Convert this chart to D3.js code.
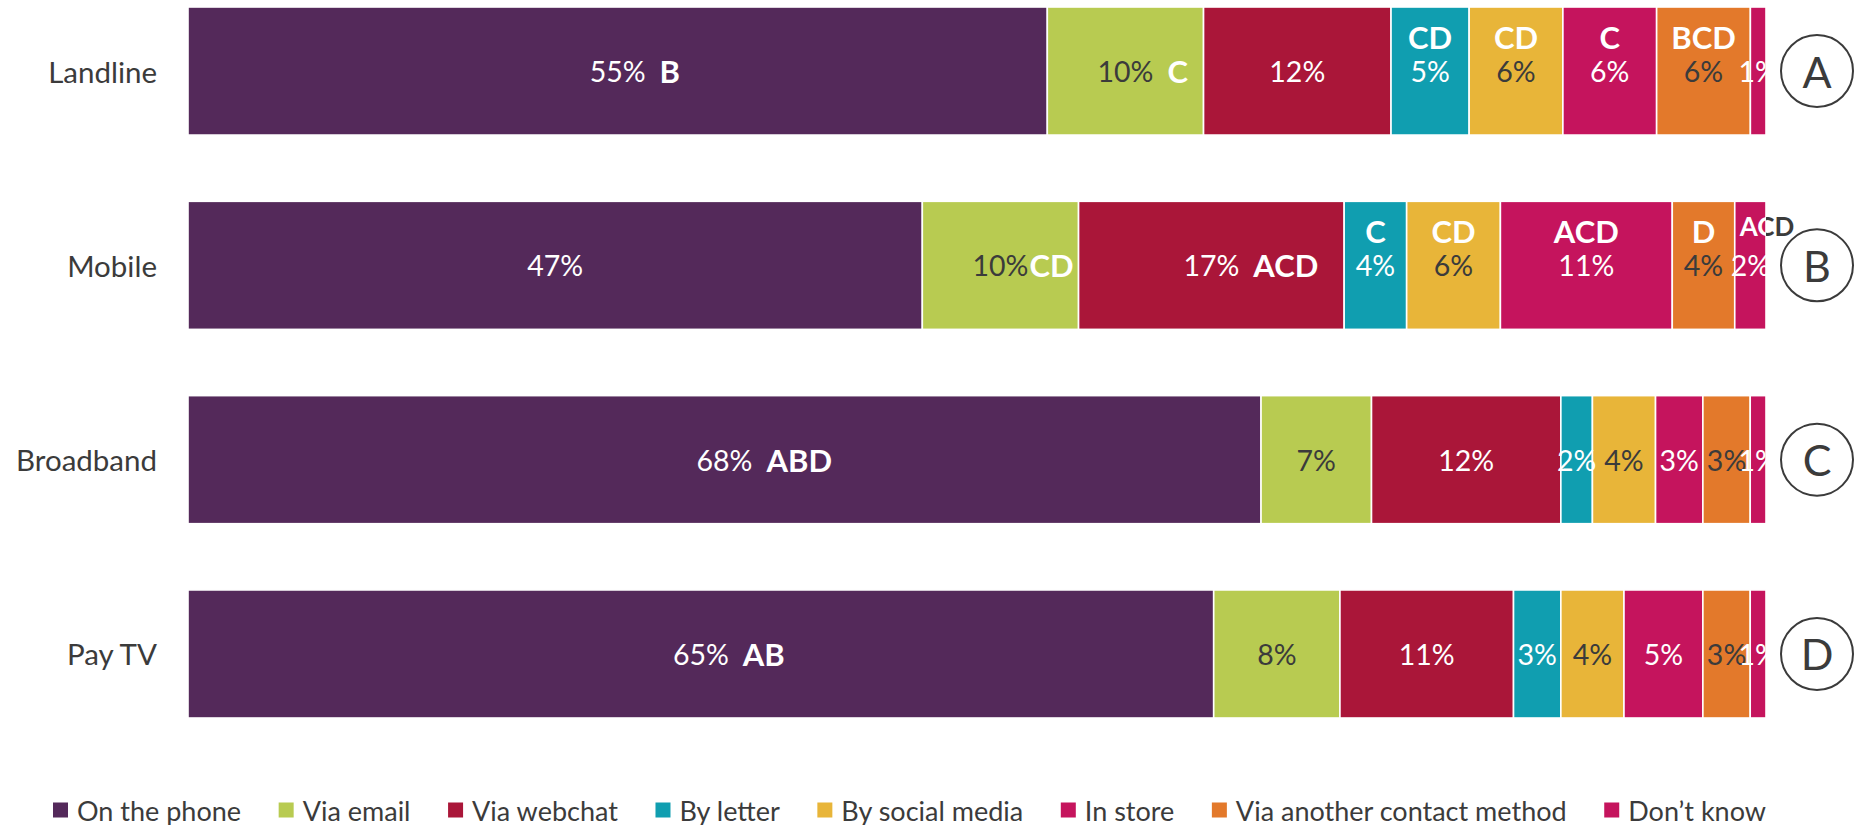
<!DOCTYPE html>
<html>
<head>
<meta charset="utf-8">
<script src="https://cdn.jsdelivr.net/npm/d3@7"></script>
<style>
  html, body { margin: 0; padding: 0; background: #fff; }
  svg { display: block; font-family: Lato, "Open Sans", sans-serif; }
</style>
</head>
<body>
<svg id="chart" width="1855" height="825"></svg>
<script>
// ---------- DATA ----------
const categories = ["Landline", "Mobile", "Broadband", "Pay TV"];
const circleLabels = ["A", "B", "C", "D"];
const seriesNames = ["On the phone", "Via email", "Via webchat", "By letter",
  "By social media", "In store", "Via another contact method", "Don\u2019t know"];

const onThePhone    = [55, 47, 68, 65];
const viaEmail      = [10, 10, 7, 8];
const viaWebchat    = [12, 17, 12, 11];
const byLetter      = [5, 4, 2, 3];
const bySocialMedia = [6, 6, 4, 4];
const inStore       = [6, 11, 3, 5];
const viaAnother    = [6, 4, 3, 3];
const dontKnow      = [1, 2, 1, 1];

// significance letters per category, one per series
const sigLandline  = ["B", "C", "", "CD", "CD", "C", "BCD", ""];
const sigMobile    = ["", "CD", "ACD", "C", "CD", "ACD", "D", "ACD"];
const sigBroadband = ["ABD", "", "", "", "", "", "", ""];
const sigPayTV     = ["AB", "", "", "", "", "", "", ""];

// ---------- STYLE ----------
const colors = ["#54295a", "#b8cb51", "#aa1639", "#109eb0", "#e8b539", "#c5145d", "#e3792b", "#c5145d"];
const valueTextColors = ["#fff", "#3b3b3b", "#fff", "#fff", "#3b3b3b", "#fff", "#3b3b3b", "#fff"];
const darkText = "#3b3b3b";

const seriesValues = [onThePhone, viaEmail, viaWebchat, byLetter, bySocialMedia, inStore, viaAnother, dontKnow];
const sigs = [sigLandline, sigMobile, sigBroadband, sigPayTV];

const rows = categories.map((c, i) => {
  const r = { category: c };
  seriesNames.forEach((s, j) => r[s] = seriesValues[j][i]);
  return r;
});

const W = 1855, H = 825;
const x0 = 188, x1 = 1766;
const svg = d3.select("#chart");

const x = d3.scaleLinear().domain([0, 1]).range([x0, x1]);
const y = d3.scaleBand().domain(categories).range([7, 718]).paddingInner(0.341).paddingOuter(0);

const stack = d3.stack().keys(seriesNames).offset(d3.stackOffsetExpand);
const stacked = stack(rows);

// clip paths for letters inside / outside bar extent
const defs = svg.append("defs");
defs.append("clipPath").attr("id", "clipIn").append("rect")
  .attr("x", 0).attr("y", 0).attr("width", x1).attr("height", H);
defs.append("clipPath").attr("id", "clipOut").append("rect")
  .attr("x", x1).attr("y", 0).attr("width", W - x1).attr("height", H);

// bars
const layers = svg.append("g").selectAll("g").data(stacked).join("g")
  .attr("fill", (d, i) => colors[i]);
layers.selectAll("rect").data(d => d).join("rect")
  .attr("x", d => x(d[0]))
  .attr("y", d => y(d.data.category))
  .attr("width", d => x(d[1]) - x(d[0]))
  .attr("height", y.bandwidth())
  .attr("stroke", "#fff")
  .attr("stroke-width", 1.6);

// value labels
const labelG = svg.append("g");
const letterIn = svg.append("g").attr("clip-path", "url(#clipIn)");
const letterOut = svg.append("g").attr("clip-path", "url(#clipOut)");

stacked.forEach((layer, si) => {
  layer.forEach((d, ci) => {
    const cx = (x(d[0]) + x(d[1])) / 2;
    const cy = y(d.data.category) + y.bandwidth() / 2;
    const v = d.data[seriesNames[si]];
    const t = labelG.append("text")
      .attr("x", cx).attr("y", cy)
      .attr("text-anchor", "middle")
      .attr("dominant-baseline", "central")
      .attr("font-size", 28.5)
      .attr("fill", valueTextColors[si])
      .text(v + "%");
    const sig = sigs[ci][si];
    if (!sig) return;
    const segW = x(d[1]) - x(d[0]);
    let lx, ly, anchor, fs = 31;
    if (si <= 2) {
      const tw = t.node().getComputedTextLength();
      const gap = (ci === 1 && si === 1) ? 1 : 14;
      lx = cx + tw / 2 + gap; ly = cy; anchor = "start";
    } else if (segW < 40) {
      lx = x(d[0]) + 5; ly = cy - 39; anchor = "start"; fs = 26;
    } else {
      lx = cx; ly = cy - 34; anchor = "middle";
    }
    [[letterIn, "#fff"], [letterOut, darkText]].forEach(([g, col]) => {
      g.append("text")
        .attr("x", lx).attr("y", ly)
        .attr("text-anchor", anchor)
        .attr("dominant-baseline", "central")
        .attr("font-size", fs)
        .attr("font-weight", 700)
        .attr("fill", col)
        .text(sig);
    });
  });
});

// category axis labels
svg.append("g").selectAll("text").data(categories).join("text")
  .attr("x", x0 - 31)
  .attr("y", d => y(d) + y.bandwidth() / 2)
  .attr("text-anchor", "end")
  .attr("dominant-baseline", "central")
  .attr("font-size", 29.5)
  .attr("fill", darkText)
  .text(d => d);

// circle labels
const circ = svg.append("g").selectAll("g").data(categories).join("g")
  .attr("transform", d => `translate(1817,${y(d) + y.bandwidth() / 2})`);
circ.append("circle").attr("r", 36).attr("fill", "#fff")
  .attr("stroke", "#3b3b3b").attr("stroke-width", 2);
circ.append("text")
  .attr("text-anchor", "middle").attr("dominant-baseline", "central")
  .attr("font-size", 43).attr("fill", "#3b3b3b")
  .text((d, i) => circleLabels[i]);

// legend
const legY = 810, legStart = 53, legEnd = 1766, sq = 15, sqGap = 24;
const leg = svg.append("g");
const items = seriesNames.map((s, i) => {
  const g = leg.append("g");
  g.append("rect").attr("width", sq).attr("height", sq).attr("y", -sq / 2)
    .attr("fill", colors[i]);
  const t = g.append("text").attr("x", sqGap).attr("dominant-baseline", "central")
    .attr("font-size", 27).attr("fill", darkText).text(s);
  return { g, w: sqGap + t.node().getComputedTextLength() };
});
const totalW = d3.sum(items, d => d.w);
const gap = (legEnd - legStart - totalW) / (items.length - 1);
let cx = legStart;
items.forEach(it => {
  it.g.attr("transform", `translate(${cx},${legY})`);
  cx += it.w + gap;
});
</script>
</body>
</html>
